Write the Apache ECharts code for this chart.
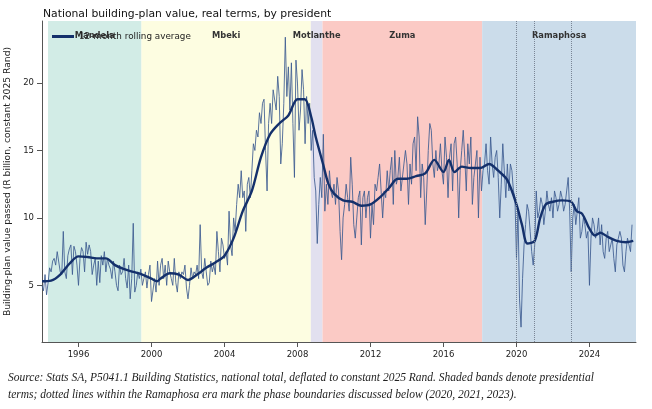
<!DOCTYPE html>
<html><head><meta charset="utf-8">
<script src="https://cdn.jsdelivr.net/npm/echarts@6/dist/echarts.min.js"></script>
<style>html,body{margin:0;padding:0;background:#fff}#c{width:652px;height:409px}</style>
</head><body><div id="c"></div>
<script>
// Monthly raw values starting Jan 1994 (R billion, constant 2025 Rand)
const startYear = 1994;
const rawValues = [
 5.0,4.6,5.8,4.3,5.2,6.3,6.0,6.8,7.0,6.5,7.5,7.4,
 6.0,5.8,9.0,6.0,5.5,7.2,7.7,8.0,5.8,7.9,7.5,6.5,
 5.0,7.0,7.8,7.5,6.0,8.2,7.3,8.0,7.5,5.8,6.5,7.0,
 5.0,6.8,5.2,7.2,6.5,7.5,6.0,7.0,6.5,6.2,5.5,6.8,
 6.0,5.0,4.6,6.5,5.8,6.0,7.0,5.5,4.8,6.5,4.0,5.5,
 9.6,4.5,5.0,6.0,5.5,6.2,5.0,5.5,6.0,4.8,5.8,6.5,
 3.8,3.7,5.5,4.5,6.8,5.0,6.5,7.0,5.5,6.5,5.0,6.8,
 6.0,5.5,5.0,7.0,5.2,4.5,6.0,5.5,6.0,5.8,6.5,4.8,
 4.0,5.0,6.3,5.5,6.0,5.8,6.5,5.5,9.5,6.0,5.5,7.0,
 6.0,5.0,5.2,6.8,6.0,6.5,5.8,9.0,7.5,6.0,8.5,8.0,
 7.0,7.5,6.5,10.5,8.0,7.2,10.0,9.0,11.0,12.5,11.5,13.5,
 11.5,12.0,9.0,12.5,13.0,11.5,13.5,15.5,15.0,16.5,16.0,17.8,
 17.0,18.5,18.8,15.0,12.0,17.0,18.5,17.0,19.5,19.5,18.0,20.5,
 19.0,14.0,15.5,18.5,23.4,19.0,21.2,18.0,21.5,17.0,13.0,21.7,
 20.0,16.5,18.0,21.0,19.5,15.5,19.0,17.0,18.5,15.0,16.5,13.0,
 12.0,8.1,11.0,13.0,11.5,16.2,10.5,12.5,11.0,13.5,12.0,11.5,
 12.5,11.0,13.0,12.0,9.0,6.9,10.0,11.0,12.5,11.5,10.5,14.5,
 12.5,9.5,8.5,10.0,11.5,12.0,8.0,11.5,12.0,10.0,11.5,12.0,
 8.5,11.0,9.5,12.5,12.0,13.0,14.0,14.0,10.0,12.0,11.5,13.5,
 12.0,13.5,14.5,11.0,15.0,12.5,13.0,14.5,12.0,13.0,14.0,15.0,
 14.0,11.0,14.0,12.5,15.5,16.0,13.5,17.5,16.0,11.5,14.0,13.0,
 9.5,12.0,15.0,17.0,16.5,14.0,13.0,15.0,13.5,14.0,15.5,13.5,
 12.5,16.0,14.5,11.5,14.5,15.5,12.0,15.5,16.0,14.0,10.0,13.5,
 15.0,16.5,14.5,12.0,15.5,14.0,16.0,11.0,13.0,14.0,15.0,10.0,
 14.5,12.0,13.5,14.0,15.5,13.5,12.5,16.0,14.0,13.0,14.5,15.0,
 13.0,10.0,12.5,15.5,13.5,11.5,14.0,12.0,14.0,13.5,12.0,11.5,
 7.0,10.5,4.0,1.9,5.5,8.0,9.5,11.0,10.5,9.0,7.5,6.5,
 8.0,12.0,10.0,10.5,11.5,11.0,9.5,10.5,12.0,11.0,10.5,11.5,
 10.0,12.0,11.5,10.5,11.0,12.0,11.5,10.5,11.0,12.0,13.0,10.5,
 6.0,10.0,11.0,9.5,10.5,11.5,8.5,9.0,10.0,9.5,8.5,9.0,
 5.0,8.5,10.0,9.5,8.5,9.0,10.0,8.0,9.5,7.5,7.0,8.5,
 9.0,7.5,8.0,8.5,7.0,6.0,8.0,8.5,9.0,8.5,6.5,6.0,
 7.5,8.5,8.0,7.5,9.5
];
// 12-month rolling average, read at selected dates
const avgDates = [1994.0,1994.5,1995.0,1995.5,1996.0,1996.5,1997.0,1997.5,1998.0,1998.5,1999.0,1999.5,2000.0,2000.3,2000.5,2001.0,2001.5,2002.0,2002.5,2003.0,2003.5,2004.0,2004.5,2005.0,2005.5,2006.0,2006.5,2007.0,2007.5,2008.0,2008.4,2008.75,2009.0,2009.4,2009.7,2010.0,2010.5,2011.0,2011.5,2012.0,2012.5,2013.0,2013.5,2014.0,2014.5,2015.0,2015.5,2016.0,2016.3,2016.6,2017.0,2017.5,2018.0,2018.5,2019.0,2019.5,2020.0,2020.3,2020.6,2021.0,2021.3,2021.6,2022.0,2022.5,2023.0,2023.3,2023.6,2024.0,2024.3,2024.6,2025.0,2025.5,2026.0,2026.4];
const avgValues = [5.3,5.35,5.8,6.6,7.15,7.1,7.0,7.0,6.5,6.2,6.0,5.8,5.5,5.3,5.5,5.9,5.8,5.4,5.8,6.3,6.7,7.2,8.5,10.5,12.0,14.5,16.2,17.0,17.6,18.8,18.8,17.5,16.0,14.0,12.5,11.8,11.3,11.2,10.9,11.0,11.5,12.2,12.9,12.9,13.1,13.3,14.3,13.4,14.3,13.4,13.8,13.7,13.7,14.0,13.5,12.8,11.0,9.5,8.1,8.3,10.0,11.0,11.2,11.3,11.2,10.5,10.3,9.2,8.7,8.9,8.6,8.3,8.2,8.3];
const terms = [
 {name:'Mandela', from:1994.33, to:1999.45, color:'#d2ece6'},
 {name:'Mbeki', from:1999.45, to:2008.73, color:'#fdfde1'},
 {name:'Motlanthe', from:2008.73, to:2009.37, color:'#e2e0ef'},
 {name:'Zuma', from:2009.37, to:2018.12, color:'#fbcac5'},
 {name:'Ramaphosa', from:2018.12, to:2026.55, color:'#cbdcea'}
];
const phaseLines = [2020, 2021, 2023];
const xTicks = [1996,2000,2004,2008,2012,2016,2020,2024];
const yTicks = [5,10,15,20];

const rawData = rawValues.map((v,i)=>[startYear + i/12, v]);
const avgData = avgDates.map((d,i)=>[d, avgValues[i]]);

const chart = echarts.init(document.getElementById('c'));
chart.setOption({
 animation:false,
 title:{text:'National building-plan value, real terms, by president', left:38, top:4,
   textStyle:{fontSize:10.8, fontWeight:'normal', color:'#111', fontFamily:'DejaVu Sans'}},
 legend:{data:['12-month rolling average'], left:47, top:27, itemWidth:22, itemHeight:3, itemGap:4,
   icon:'rect', textStyle:{fontSize:8.8, color:'#222', fontFamily:'DejaVu Sans'}},
 grid:{left:42, right:16, top:21, bottom:67, outerBoundsMode:'none'},
 xAxis:{type:'value', min:1994, max:2026.55,
   axisLine:{lineStyle:{color:'#555'}},
   axisTick:{customValues:xTicks, lineStyle:{color:'#555'}},
   axisLabel:{customValues:xTicks, formatter:v=>String(v), fontSize:8.5, color:'#222', fontFamily:'DejaVu Sans'},
   splitLine:{show:false}},
 yAxis:{type:'value', min:0.8, max:24.6,
   name:'Building-plan value passed (R billion, constant 2025 Rand)', nameLocation:'middle', nameGap:24,
   nameTextStyle:{fontSize:9.2, color:'#222', fontFamily:'DejaVu Sans'},
   axisLine:{show:true, lineStyle:{color:'#555'}},
   axisTick:{show:true, customValues:yTicks, lineStyle:{color:'#555'}},
   axisLabel:{customValues:yTicks, fontSize:8.5, color:'#222', fontFamily:'DejaVu Sans'},
   splitLine:{show:false}},
 series:[
  {type:'line', name:'monthly', data:rawData, showSymbol:false, z:3,
   lineStyle:{width:1, color:'#3d5c91', opacity:0.85},
   markArea:{silent:true, data:terms.map(t=>[{xAxis:t.from, itemStyle:{color:t.color},
      label:{show:true, position:'insideTop', distance:11, formatter:t.name, fontSize:8.3, fontWeight:'bold', color:'#333', fontFamily:'DejaVu Sans'}},{xAxis:t.to}])},
   markLine:{silent:true, symbol:'none', label:{show:false},
     lineStyle:{type:'dotted', color:'#7a8595', width:1},
     data:phaseLines.map(x=>({xAxis:x}))}},
  {type:'line', name:'12-month rolling average', data:avgData, showSymbol:false, smooth:0.3, z:4,
   lineStyle:{width:2.4, color:'#14306b'}, itemStyle:{color:'#14306b'}}
 ],
 graphic:[
  {type:'text', left:8, top:372, style:{text:'Source: Stats SA, P5041.1 Building Statistics, national total, deflated to constant 2025 Rand. Shaded bands denote presidential', font:'italic 11.5px "Liberation Serif"', fill:'#222'}},
  {type:'text', left:8, top:389, style:{text:'terms; dotted lines within the Ramaphosa era mark the phase boundaries discussed below (2020, 2021, 2023).', font:'italic 11.5px "Liberation Serif"', fill:'#222'}}
 ]
});
</script></body></html>
